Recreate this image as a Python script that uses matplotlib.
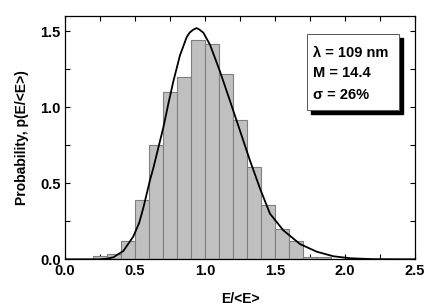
import matplotlib
matplotlib.use("Agg")
import matplotlib.pyplot as plt
from matplotlib.patches import Rectangle
from matplotlib.ticker import MultipleLocator

plt.rcParams['font.family'] = ['Liberation Sans', 'DejaVu Sans']
plt.rcParams['font.weight'] = 'bold'

# histogram: left edges of bins (width 0.1) and heights
bin_left = [0.2, 0.3, 0.4, 0.5, 0.6, 0.7, 0.8, 0.9, 1.0, 1.1, 1.2,
            1.3, 1.4, 1.5, 1.6, 1.7, 1.8]
bin_height = [0.02, 0.035, 0.12, 0.387, 0.752, 1.098, 1.2, 1.44, 1.415,
              1.215, 0.915, 0.608, 0.354, 0.198, 0.12, 0.017, 0.013]

# fitted curve
curve_x = [0.0, 0.25, 0.30, 0.345, 0.417, 0.488, 0.53, 0.56, 0.607, 0.631,
           0.702, 0.74, 0.774, 0.821, 0.869, 0.89, 0.917, 0.94, 0.96, 0.988,
           1.036, 1.107, 1.179, 1.25, 1.321, 1.393, 1.464, 1.56, 1.679,
           1.798, 1.917, 2.036, 2.2, 2.5]
curve_y = [0.0, 0.0, 0.004, 0.013, 0.055, 0.15, 0.24, 0.34, 0.52, 0.60,
           0.865, 1.03, 1.17, 1.34, 1.46, 1.49, 1.51, 1.52, 1.51, 1.49,
           1.41, 1.235, 1.04, 0.845, 0.65, 0.465, 0.30, 0.19, 0.10,
           0.05, 0.02, 0.007, 0.001, 0.0]

box_lines = ['\u03bb = 109 nm', 'M = 14.4', '\u03c3 = 26%']

fig = plt.figure(figsize=(4.4, 3.06), dpi=100)
ax = fig.add_axes([0.1477, 0.1526, 0.7955, 0.7954])

ax.bar(bin_left, bin_height, width=0.1, align='edge', color='#c0c0c0',
       edgecolor='#7f7f7f', linewidth=0.8, zorder=2)
ax.plot(curve_x, curve_y, color='black', lw=1.3, zorder=3)

ax.set_xlim(0, 2.5)
ax.set_ylim(0, 1.6)
ax.xaxis.set_major_locator(MultipleLocator(0.5))
ax.xaxis.set_minor_locator(MultipleLocator(0.25))
ax.yaxis.set_major_locator(MultipleLocator(0.5))
ax.yaxis.set_minor_locator(MultipleLocator(0.25))
ax.tick_params(which='both', direction='in', top=True, right=True,
               length=3.5, width=0.8, labelsize=10.5)
ax.tick_params(axis='x', pad=3.5)
ax.tick_params(axis='y', pad=3)
for lab in ax.get_xticklabels() + ax.get_yticklabels():
    lab.set_fontweight('bold')
for sp in ax.spines.values():
    sp.set_linewidth(0.9)

ax.set_xlabel('E/<E>', fontsize=10, fontweight='bold', labelpad=10)
ax.set_ylabel('Probability, p(E/<E>)', fontsize=10, fontweight='bold',
              labelpad=8)

# legend-like box with drop shadow
bx, by, bw, bh = 0.692, 0.614, 0.263, 0.312
ax.add_patch(Rectangle((bx + 0.0114, by - 0.0164), bw, bh,
                       transform=ax.transAxes, facecolor='black',
                       edgecolor='black', zorder=4))
ax.add_patch(Rectangle((bx, by), bw, bh, transform=ax.transAxes,
                       facecolor='white', edgecolor='#555555', lw=0.7,
                       zorder=5))
for txt, ty in zip(box_lines, [0.847, 0.764, 0.675]):
    ax.text(0.708, ty, txt, transform=ax.transAxes, fontsize=10.5,
            fontweight='bold', va='center', ha='left', zorder=6)

fig.savefig('out.png', dpi=100)
